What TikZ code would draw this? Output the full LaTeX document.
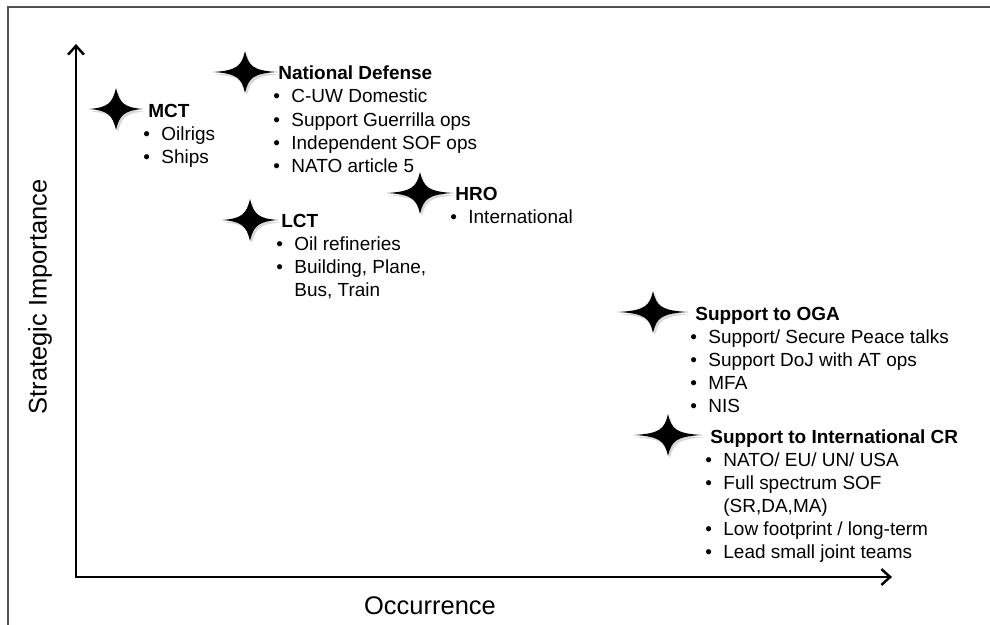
\documentclass[tikz,border=0pt]{standalone}
\usepackage{fontspec}
\setmainfont{Liberation Sans}
\usetikzlibrary{arrows.meta,positioning,calc}
\definecolor{framegray}{HTML}{505050}

\begin{document}
\begin{tikzpicture}[x=0.02cm, y=-0.02cm,
  head/.style={font=\fontsize{10.8}{13.2}\selectfont\bfseries, inner sep=0pt, anchor=base west},
  itemlist/.style={font=\fontsize{10.8}{13.2}\selectfont, inner sep=0pt, anchor=base west},
  axislabel/.style={font=\fontsize{14.5}{17}\selectfont},
  axisline/.style={line width=1.4pt, line cap=round,
    {Straight Barb[length=5pt,width=9pt]}-{Straight Barb[length=5pt,width=9pt]}},
  starshade/.style={fill=black, opacity=0.15},
]
% page: 990 x 625 px, y counted downward
\useasboundingbox (0,0) rectangle (990,625);
\draw[framegray, line width=0.6pt] (990,7) -| (8,625);

% axes
\coordinate (orig) at (76,577);
\coordinate (ytip) at (76,44);
\coordinate (xtip) at (892,577);
\draw[black!25, line width=1.4pt, shift={(1.5,2)}] (ytip) -- (orig) -- (xtip);
\draw[axisline] (ytip) -- (orig) -- (xtip);
\node[axislabel] (xlab) at (430,606) {Occurrence};
\node[axislabel, rotate=90] (ylab) at (40,297) {Strategic Importance};

% stars + headings
\foreach \n/\sx/\sy/\w/\tx/\ty/\ttl in {
  mct/116/109/27/148/117/{MCT},
  natdef/245/72/32/278/80/{National Defense},
  lct/250/220/28/281/227/{LCT},
  hro/420/193/33/455/200/{HRO},
  oga/653/312/35/695/320/{Support to OGA},
  icr/668/435/34/710/443/{Support to International CR}
} {
  \begin{scope}[shift={(\sx,\sy)}]
    \fill[starshade, shift={(2,2.5)}] (-\w,0) .. controls (-8,-1.5) and (-3.5,-6) .. (0,-21)
      .. controls (3.5,-6) and (8,-1.5) .. (\w,0) .. controls (8,1.5) and (3.5,6) .. (0,21)
      .. controls (-3.5,6) and (-8,1.5) .. (-\w,0) -- cycle;
    \fill (-\w,0) .. controls (-8,-1.5) and (-3.5,-6) .. (0,-21)
      .. controls (3.5,-6) and (8,-1.5) .. (\w,0) .. controls (8,1.5) and (3.5,6) .. (0,21)
      .. controls (-3.5,6) and (-8,1.5) .. (-\w,0) -- cycle;
  \end{scope}
  \node[head] (\n) at (\tx,\ty) {\ttl};
}

% bullet lists under the headings
\node[itemlist] (mct-l) at ($(mct.base west)+(-5,23)$) {\begin{tabular}[t]{@{}l@{\hspace{6.5pt}}l@{}}
  \textbullet & Oilrigs\\
  \textbullet & Ships
\end{tabular}};
\node[itemlist] (natdef-l) at ($(natdef.base west)+(-5,23)$) {\begin{tabular}[t]{@{}l@{\hspace{6.5pt}}l@{}}
  \textbullet & C-UW Domestic\\
  \textbullet & Support Guerrilla ops\\
  \textbullet & Independent SOF ops\\
  \textbullet & NATO article 5
\end{tabular}};
\node[itemlist] (hro-l) at ($(hro.base west)+(-5,23)$) {\begin{tabular}[t]{@{}l@{\hspace{6.5pt}}l@{}}
  \textbullet & International
\end{tabular}};
\node[itemlist] (lct-l) at ($(lct.base west)+(-5,23)$) {\begin{tabular}[t]{@{}l@{\hspace{6.5pt}}l@{}}
  \textbullet & Oil refineries\\
  \textbullet & Building, Plane,\\
              & Bus, Train
\end{tabular}};
\node[itemlist] (oga-l) at ($(oga.base west)+(-5,23)$) {\begin{tabular}[t]{@{}l@{\hspace{6.5pt}}l@{}}
  \textbullet & Support/ Secure Peace talks\\
  \textbullet & Support DoJ with AT ops\\
  \textbullet & MFA\\
  \textbullet & NIS
\end{tabular}};
\node[itemlist] (icr-l) at ($(icr.base west)+(-5,23)$) {\begin{tabular}[t]{@{}l@{\hspace{6.5pt}}l@{}}
  \textbullet & NATO/ EU/ UN/ USA\\
  \textbullet & Full spectrum SOF\\
              & (SR,DA,MA)\\
  \textbullet & Low footprint / long-term\\
  \textbullet & Lead small joint teams
\end{tabular}};
\end{tikzpicture}
\end{document}
